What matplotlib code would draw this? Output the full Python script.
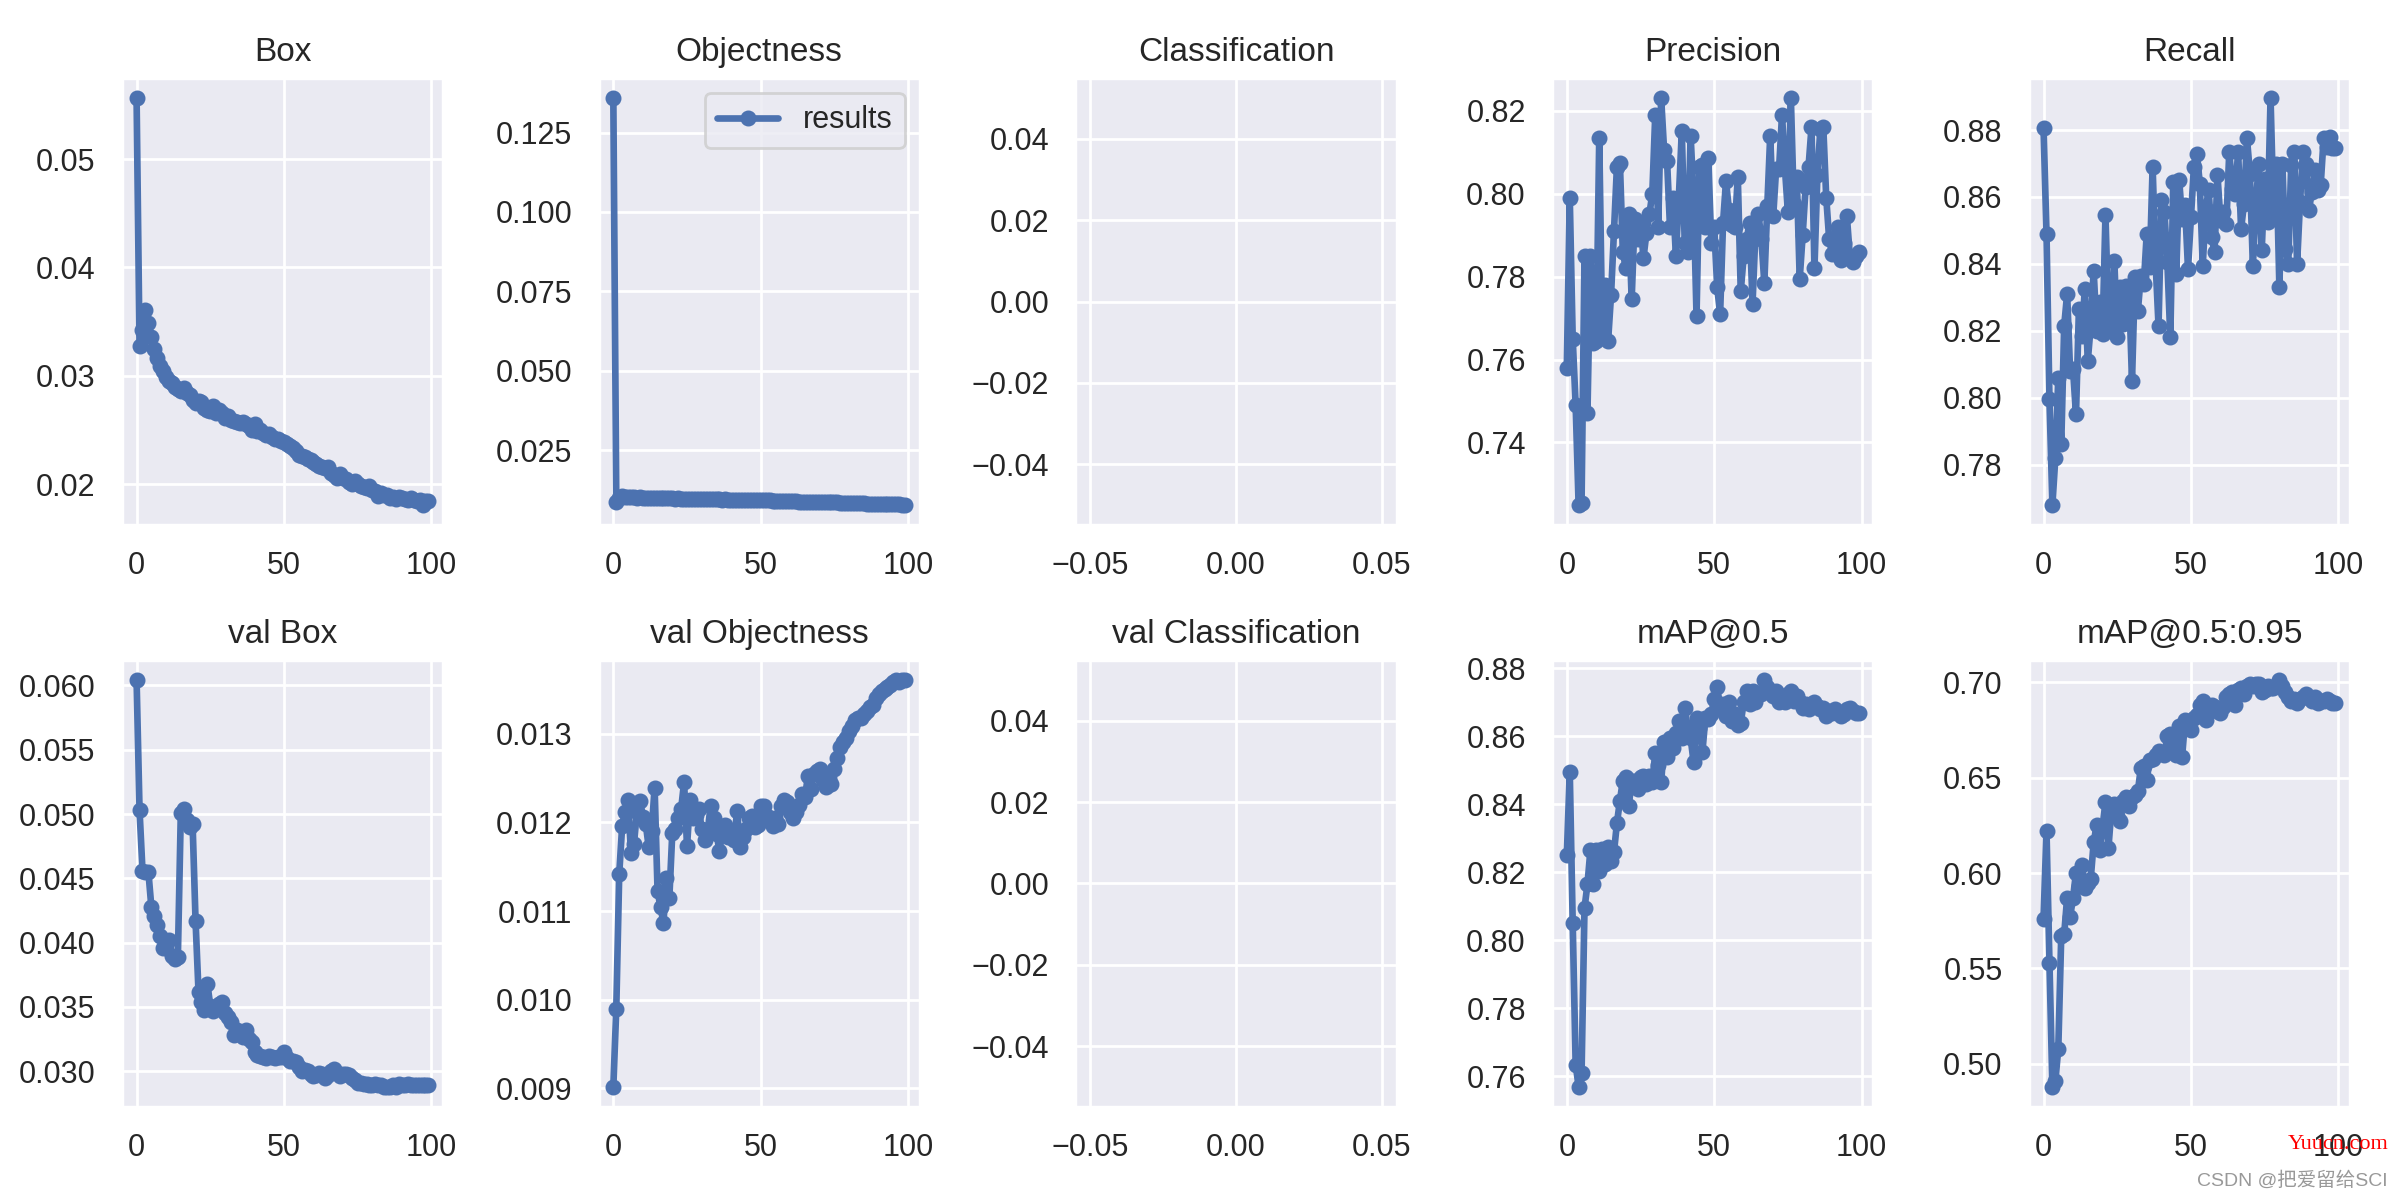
import matplotlib
matplotlib.use('Agg')
import matplotlib.pyplot as plt
import seaborn as sns

sns.set_theme()
plt.rcParams['font.family'] = ['Liberation Sans', 'Noto Sans CJK SC', 'DejaVu Sans']

titles = ['Box', 'Objectness', 'Classification', 'Precision', 'Recall',
          'val Box', 'val Objectness', 'val Classification', 'mAP@0.5', 'mAP@0.5:0.95']

box = [.0556,.0327,.0342,.0361,.0349,.0336,.0325,.0316,.0309,.0304,
       .0299,.0295,.0293,.0290,.0288,.0286,.0289,.0284,.0282,.0278,
       .0275,.0277,.0276,.0270,.0268,.0267,.0272,.0266,.0268,.0266,
       .0261,.0263,.0259,.0258,.0257,.0256,.0257,.0255,.0254,.0250,
       .0255,.0249,.0250,.0247,.0245,.0246,.0243,.0242,.0242,.0240,
       .0239,.0237,.0235,.0233,.0231,.0227,.0226,.0225,.0223,.0222,
       .0220,.0219,.0217,.0216,.0215,.0216,.0210,.0208,.0206,.0209,
       .0206,.0205,.0202,.0200,.0203,.0200,.0198,.0197,.0196,.0198,
       .0195,.0194,.0189,.0192,.0190,.0190,.0187,.0188,.0186,.0188,
       .0187,.0186,.0185,.0187,.0185,.0184,.0185,.0181,.0184,.0184]

objectness = [.1358,.0088,.0098,.0104,.0103,.0102,.0101,.0101,.0100,.0101,
              .0100,.0100,.0099,.0100,.0099,.0099,.0098,.0099,.0098,.0098,
              .0098,.0097,.0098,.0097,.0097,.0097,.0096,.0097,.0096,.0096,
              .0096,.0095,.0096,.0095,.0095,.0095,.0095,.0094,.0095,.0094,
              .0094,.0094,.0094,.0094,.0093,.0094,.0093,.0093,.0093,.0093,
              .0093,.0092,.0092,.0092,.0091,.0091,.0091,.0090,.0090,.0090,
              .0089,.0089,.0089,.0088,.0088,.0088,.0088,.0087,.0087,.0087,
              .0086,.0087,.0086,.0085,.0085,.0085,.0085,.0084,.0084,.0084,
              .0083,.0083,.0083,.0082,.0082,.0082,.0081,.0081,.0081,.0081,
              .0080,.0080,.0080,.0080,.0079,.0079,.0079,.0079,.0078,.0078]

precision = [.758,.799,.765,.749,.725,.7255,.785,.747,.785,.764,
             .7645,.8135,.767,.778,.7645,.7755,.791,.8065,.8075,.786,
             .782,.795,.7745,.794,.789,.793,.7845,.7905,.795,.800,
             .819,.792,.823,.8105,.808,.792,.799,.785,.799,.815,
             .788,.786,.814,.799,.7705,.8065,.807,.792,.8085,.788,
             .792,.7775,.771,.793,.803,.796,.7925,.792,.804,.7765,
             .785,.789,.793,.7735,.791,.795,.789,.7785,.797,.814,
             .7945,.806,.806,.819,.806,.7955,.823,.7975,.804,.7795,
             .790,.8015,.8065,.816,.782,.8045,.8155,.816,.799,.789,
             .7855,.789,.792,.784,.788,.7945,.785,.7835,.785,.786]

recall = [.8805,.849,.7995,.768,.782,.806,.786,.8215,.831,.808,
          .8085,.795,.8265,.8185,.8325,.811,.8215,.838,.820,.8285,
          .819,.8545,.8235,.8205,.841,.818,.833,.822,.8335,.8325,
          .805,.836,.826,.8365,.834,.849,.839,.869,.8405,.8215,
          .859,.8555,.8405,.818,.8645,.837,.865,.8535,.8575,.8385,
          .854,.869,.873,.864,.8395,.8565,.862,.848,.8435,.8665,
          .853,.8555,.8520,.8735,.8625,.861,.8735,.8505,.858,.8775,
          .867,.8395,.8575,.870,.844,.8655,.8525,.8895,.856,.870,
          .833,.870,.8445,.840,.8695,.8735,.840,.8585,.8735,.870,
          .856,.8615,.868,.862,.8635,.8775,.875,.878,.8745,.8745]

val_box = [.0604,.0503,.0456,.0455,.0455,.0428,.0421,.0414,.0405,.0396,
           .0396,.0402,.0390,.0387,.0389,.0501,.0504,.0495,.0490,.0492,
           .0417,.0362,.0354,.0348,.0368,.0351,.0347,.0349,.0352,.0354,
           .0345,.0342,.0338,.0328,.0332,.0330,.0327,.0332,.0325,.0323,
           .0315,.0313,.0312,.0311,.0310,.0312,.0311,.0310,.0311,.0311,
           .0315,.0310,.0308,.0308,.0307,.0303,.0300,.0301,.0300,.0298,
           .0296,.0297,.0299,.0298,.0295,.0297,.0300,.0302,.0299,.0296,
           .0298,.0298,.0297,.0295,.0293,.0291,.0291,.0290,.0290,.0289,
           .0289,.0290,.0289,.0289,.0288,.0288,.0288,.0289,.0288,.0290,
           .0289,.0289,.0290,.0289,.0289,.0289,.0289,.0289,.0289,.0289]

val_objectness = [.00902,.00990,.01142,.01196,.01212,.01225,.01165,.01176,.01212,.01224,
                  .01206,.01198,.01172,.01190,.01239,.01123,.01104,.01087,.01137,.01115,
                  .01188,.01192,.01205,.01215,.01245,.01173,.01225,.01205,.01208,.01215,
                  .01192,.01180,.01190,.01218,.01205,.01187,.01168,.01190,.01197,.01183,
                  .01190,.01180,.01213,.01172,.01183,.01192,.01205,.01207,.01195,.01197,
                  .01218,.01218,.01207,.01202,.01196,.01205,.01198,.01218,.01225,.01223,
                  .01212,.01205,.01212,.01220,.01232,.01228,.01252,.01238,.01254,.01258,
                  .01260,.01248,.01240,.01250,.01243,.01260,.01272,.01285,.01290,.01295,
                  .01303,.01308,.01315,.01318,.01318,.01322,.01325,.01330,.01332,.01340,
                  .01345,.01348,.01350,.01352,.01355,.01358,.01360,.01358,.01360,.01360]

map50 = [.825,.8495,.805,.7635,.757,.761,.8095,.8165,.8265,.8165,
         .8265,.8205,.827,.8225,.8275,.8235,.826,.8345,.841,.847,
         .848,.8395,.847,.847,.8445,.848,.8485,.846,.8485,.8465,
         .855,.8515,.8465,.8585,.854,.8595,.8565,.861,.8645,.8595,
         .8685,.8625,.8595,.8525,.8655,.8625,.8555,.8655,.8650,.8665,
         .8710,.8745,.868,.8695,.866,.870,.8645,.8665,.8635,.8640,
         .8700,.8735,.8695,.8735,.8700,.8725,.8725,.8765,.8745,.8730,
         .8720,.8735,.8700,.8715,.8700,.8725,.8735,.8705,.8720,.8700,
         .8685,.8695,.8680,.8695,.8700,.8690,.8680,.8685,.8660,.8675,
         .8670,.8680,.8670,.8660,.8665,.8680,.8685,.8675,.8670,.8670]

map5095 = [.576,.622,.553,.488,.491,.508,.567,.568,.587,.577,
           .587,.600,.593,.604,.592,.595,.597,.616,.625,.612,
           .624,.637,.613,.633,.636,.630,.627,.638,.640,.635,
           .640,.641,.643,.655,.656,.649,.659,.660,.662,.664,
           .663,.662,.672,.673,.665,.662,.677,.661,.680,.679,
           .675,.681,.683,.688,.690,.680,.685,.688,.687,.685,
           .684,.687,.692,.694,.695,.688,.696,.697,.694,.698,
           .699,.698,.699,.699,.695,.696,.698,.697,.697,.698,
           .701,.698,.695,.692,.690,.691,.689,.691,.692,.694,
           .692,.690,.692,.689,.690,.690,.691,.690,.689,.689]

# classification losses are empty in this run
cls_empty = []
val_cls_empty = []

series = [box, objectness, cls_empty, precision, recall,
          val_box, val_objectness, val_cls_empty, map50, map5095]

fig, ax = plt.subplots(2, 5, figsize=(12, 6))
fig.subplots_adjust(left=122/2400, right=2350/2400, top=1-78/1200, bottom=1-1107/1200,
                    wspace=0.485, hspace=0.302)
ax = ax.ravel()

for i, y in enumerate(series):
    ax[i].plot(range(len(y)), y, marker='.', label='results', linewidth=2.4, markersize=9.5)
    ax[i].set_title(titles[i], fontsize=12)
    if len(y) == 0:
        ax[i].set_xlim(-0.055, 0.055)
        ax[i].set_ylim(-0.055, 0.055)

ax[1].legend()

fig.text(0.995, 0.046, 'Yuucn.com', color='red', ha='right', va='center', fontsize=8,
         family=['Liberation Serif'])
fig.text(0.995, 0.0166, 'CSDN @把爱留给SCI', color='#999999', ha='right', va='center', fontsize=7)

fig.savefig('out.png', dpi=200)
